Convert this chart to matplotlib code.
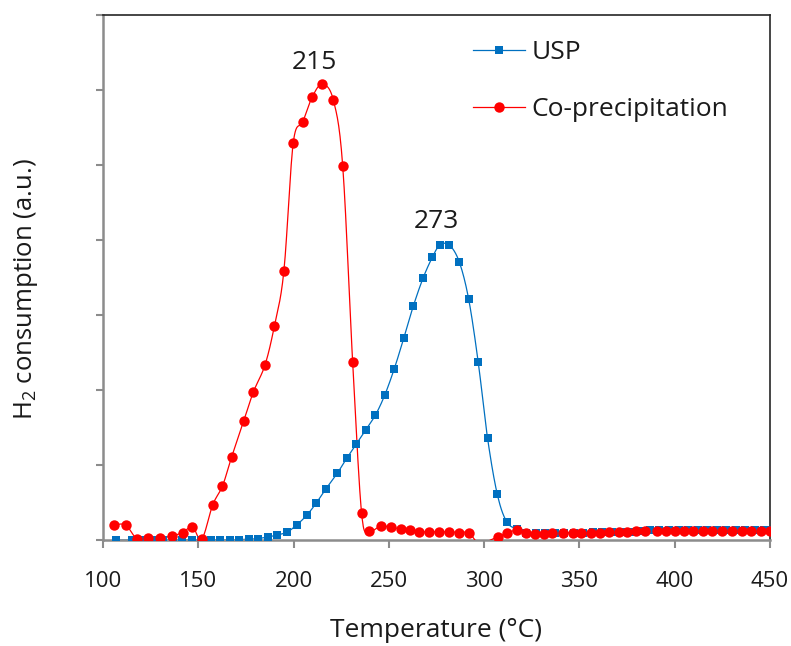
import numpy as np
import matplotlib
matplotlib.use("Agg")
import matplotlib.pyplot as plt
from matplotlib.lines import Line2D

# H2-TPR profiles: temperature (°C) and H2 consumption (a.u.)
usp_temp = [107, 115, 120.5, 126.5, 131.5, 136.5, 141.5, 146.5, 151.5, 156.5,
            161.5, 166.5, 171.5, 176.5, 181.5, 186.5, 191.5, 196.5, 201.6, 206.9,
            211.8, 216.8, 222.9, 227.9, 232.9, 237.8, 242.9, 247.8, 252.8, 257.8,
            262.8, 267.9, 272.8, 276.8, 281.7, 286.9, 291.9, 296.9, 301.8, 306.9,
            311.8, 317.1, 322, 327, 332, 337, 342, 347, 352, 357,
            362, 367, 372, 377, 382, 387, 392, 397, 402, 407,
            412, 417, 422, 427, 432, 437, 442, 447, 450]
usp_signal = [0, 0, 0, 0, 0, 0, 0, 0, 0, 0,
              0, 0, 0.005, 0.01, 0.02, 0.04, 0.067, 0.103, 0.2, 0.33,
              0.489, 0.676, 0.889, 1.089, 1.276, 1.463, 1.663, 1.929, 2.28, 2.689,
              3.116, 3.489, 3.769, 3.933, 3.933, 3.711, 3.209, 2.369, 1.356, 0.609,
              0.244, 0.147, 0.1, 0.095, 0.095, 0.1, 0.1, 0.1, 0.1, 0.105,
              0.105, 0.105, 0.11, 0.11, 0.115, 0.13, 0.13, 0.13, 0.13, 0.13,
              0.13, 0.13, 0.13, 0.13, 0.13, 0.13, 0.13, 0.13, 0.13]

cop_temp = [105.9, 111.9, 117.7, 123.8, 129.9, 136.0, 141.8, 146.9, 151.8, 157.6,
            162.7, 167.5, 173.8, 178.9, 185.0, 189.9, 194.9, 199.8, 204.8, 209.8,
            215.0, 220.8, 225.8, 231.0, 235.7, 239.7, 245.7, 251.1, 256.2, 261.1,
            265.9, 271.0, 276.1, 281.7, 286.9, 291.9, 297.0, 302.0, 307.1, 311.8,
            317.1, 321.9, 326.7, 331.5, 335.7, 341.5, 346.8, 350.8, 356.0, 360.8,
            365.6, 370.9, 374.8, 379.6, 384.4, 390.5, 395.4, 400.1, 404.8, 409.7,
            414.6, 419.7, 424.6, 429.8, 435.1, 440.0, 445.1, 450.0]
cop_signal = [0.2, 0.2, 0.02, 0.03, 0.03, 0.053, 0.10, 0.178, 0.01, 0.47,
              0.72, 1.107, 1.583, 1.973, 2.333, 2.85, 3.583, 5.289, 5.573, 5.907,
              6.076, 5.871, 4.983, 2.373, 0.356, 0.12, 0.187, 0.169, 0.147, 0.129,
              0.109, 0.109, 0.109, 0.109, 0.1, 0.097, -0.045, -0.015, 0.044, 0.089,
              0.133, 0.098, 0.08, 0.076, 0.089, 0.089, 0.097, 0.097, 0.1, 0.1,
              0.107, 0.107, 0.107, 0.115, 0.124, 0.124, 0.12, 0.12, 0.12, 0.12,
              0.12, 0.12, 0.12, 0.12, 0.12, 0.12, 0.12, 0.12]

series_names = ["USP", "Co-precipitation"]
peak_text = ["215", "273"]
x_ticks = [100, 150, 200, 250, 300, 350, 400, 450]

BLUE = "#0070C0"
RED = "#FF0000"
FONT = "Open Sans"

plt.rcParams["font.family"] = [FONT, "DejaVu Sans"]
plt.rcParams["mathtext.fontset"] = "custom"
plt.rcParams["mathtext.rm"] = FONT
plt.rcParams["mathtext.it"] = FONT
plt.rcParams["mathtext.default"] = "regular"


def smooth(x, y, n=14):
    """Cubic Bezier smoothing through every point (spreadsheet-style smoothed line)."""
    pts = np.column_stack([x, y]).astype(float)
    P = np.vstack([pts[0], pts, pts[-1]])
    t = np.linspace(0, 1, n, endpoint=False)[:, None]
    segs = []
    for i in range(1, len(P) - 2):
        p0, p1, p2, p3 = P[i - 1], P[i], P[i + 1], P[i + 2]
        c1 = p1 + (p2 - p0) / 6.0
        c2 = p2 - (p3 - p1) / 6.0
        segs.append((1 - t) ** 3 * p1 + 3 * (1 - t) ** 2 * t * c1
                    + 3 * (1 - t) * t ** 2 * c2 + t ** 3 * p2)
    segs.append(pts[-1:])
    s = np.vstack(segs)
    return s[:, 0], s[:, 1]


fig = plt.figure(figsize=(7.91, 6.46), dpi=100)
ax = fig.add_axes([103 / 791, 1 - 540 / 646, 667 / 791, 525 / 646])

ux, uy = smooth(usp_temp, usp_signal)
cx, cy = smooth(cop_temp, cop_signal)
ax.plot(ux, uy, color=BLUE, lw=0.9, zorder=2)
ax.plot(cx, cy, color=RED, lw=0.9, zorder=3)

u_t = np.array(usp_temp)
u_s = np.array(usp_signal)
c_t = np.array(cop_temp)
c_s = np.array(cop_signal)
ax.plot(u_t[u_s >= 0], u_s[u_s >= 0], ls="none", marker="s", ms=6,
        mfc=BLUE, mec=BLUE, mew=0, zorder=4)
ax.plot(c_t[c_s >= 0], c_s[c_s >= 0], ls="none", marker="o", ms=7.5,
        mfc=RED, mec=RED, mew=0, zorder=5)

# peak temperature labels
i_c = int(np.argmax(c_s))
i_u = int(np.argmax(u_s))
ax.annotate(peak_text[0], (c_t[i_c], c_s[i_c]), xytext=(-5.5, 11),
            textcoords="offset points", ha="center", va="baseline",
            fontsize=19, color="#1a1a1a")
ax.annotate(peak_text[1], (u_t[i_u], u_s[i_u]), xytext=(-2.5, 12.2),
            textcoords="offset points", ha="center", va="baseline",
            fontsize=19, color="#1a1a1a")

ax.set_xlim(100, 450)
ax.set_ylim(0, 7)
ax.set_xticks(x_ticks)
ax.set_xticklabels([str(v) for v in x_ticks])
ax.set_yticks(np.arange(0, 8, 1))
ax.set_yticklabels([])

for side in ("left", "bottom"):
    ax.spines[side].set_color("#8c8c8c")
    ax.spines[side].set_linewidth(1.8)
for side in ("top", "right"):
    ax.spines[side].set_color("#262626")
    ax.spines[side].set_linewidth(1.2)

ax.tick_params(axis="x", direction="out", length=6, width=1.5, color="#8c8c8c",
               labelsize=16, pad=16, labelcolor="#1a1a1a")
ax.tick_params(axis="y", direction="out", length=5, width=1.5, color="#8c8c8c")

ax.set_xlabel("Temperature (°C)", fontsize=19, color="#1a1a1a", labelpad=19)
ax.set_ylabel("H$_2$ consumption (a.u.)", fontsize=18.5, color="#1a1a1a")
ax.yaxis.set_label_coords(-0.095, 0.478)

handles = [
    Line2D([], [], color=BLUE, lw=0.9, marker="s", ms=6, mew=0),
    Line2D([], [], color=RED, lw=0.9, marker="o", ms=7.5, mew=0),
]
ax.legend(handles, series_names, loc="upper left", bbox_to_anchor=(0.555, 0.952),
          frameon=False, fontsize=19, handlelength=1.95, handletextpad=0.25,
          labelspacing=1.22, borderaxespad=0, borderpad=0, labelcolor="#1a1a1a")

fig.savefig("out.png", dpi=100)
